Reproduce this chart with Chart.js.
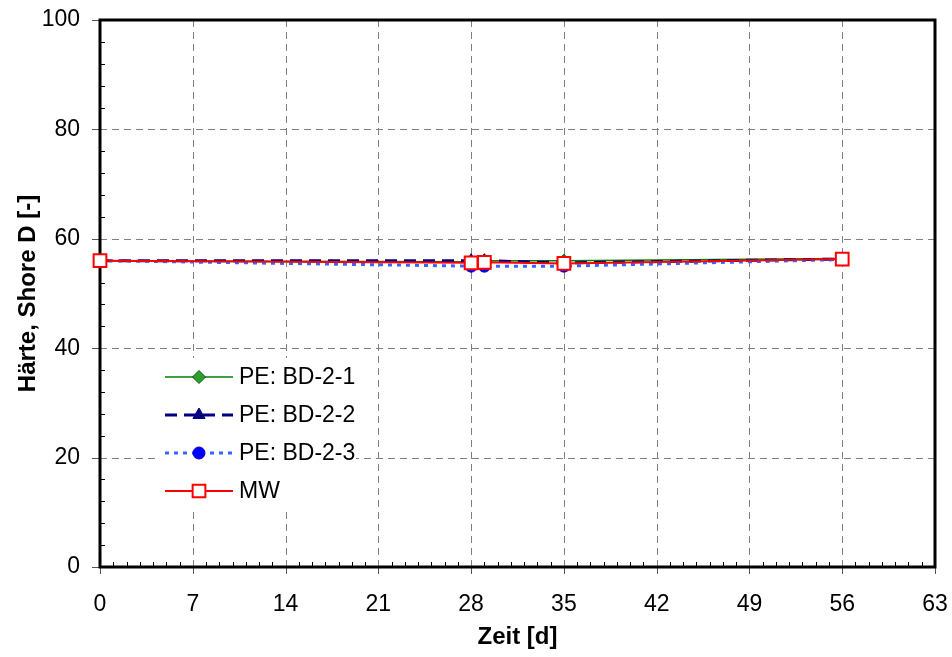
<!DOCTYPE html>
<html><head><meta charset="utf-8">
<script src="https://cdn.jsdelivr.net/npm/chart.js@4/dist/chart.umd.min.js"></script>
<style>html,body{margin:0;padding:0;background:#fff}#wrap{width:952px;height:657px}</style>
</head><body><div id="wrap"><canvas id="c" width="952" height="657"></canvas></div>
<script>
const days = [0, 28, 29, 35, 56];
const bd1 = [56, 55.8, 56.0, 56.0, 56.4];
const bd2 = [56, 56.0, 56.0, 55.6, 56.3];
const bd3 = [56, 55.0, 55.0, 55.0, 56.2];
const mw  = [56, 55.6, 55.7, 55.5, 56.3];
const seriesNames = ['PE: BD-2-1', 'PE: BD-2-2', 'PE: BD-2-3', 'MW'];
const xTicks = [0, 7, 14, 21, 28, 35, 42, 49, 56, 63];
const yTicks = [0, 20, 40, 60, 80, 100];

const FONT = "'Liberation Sans', Arial, sans-serif";
const pts = arr => days.map((d, i) => ({x: d, y: arr[i]}));

const datasets = [
  {label: seriesNames[0], data: pts(bd1), borderColor: '#008000', backgroundColor: '#2e9e2e', borderWidth: 1.5,
   pointStyle: 'rectRot', pointRadius: 6.5, pointBorderColor: '#006400', pointBorderWidth: 1, order: 3},
  {label: seriesNames[1], data: pts(bd2), borderColor: '#000080', backgroundColor: '#000080', borderWidth: 3,
   borderDash: [12, 7], pointStyle: 'triangle', pointRadius: 7, pointBorderColor: '#000080', pointBorderWidth: 1, order: 2},
  {label: seriesNames[2], data: pts(bd3), borderColor: '#3366ff', backgroundColor: '#0000ff', borderWidth: 3,
   borderDash: [4, 5], pointStyle: 'circle', pointRadius: 6, pointBorderColor: '#0000cc', pointBorderWidth: 1, order: 1},
  {label: seriesNames[3], data: pts(mw), borderColor: '#ff0000', backgroundColor: '#ffffff', borderWidth: 2,
   pointStyle: 'rect', pointRadius: 9, pointBorderColor: '#ff0000', pointBorderWidth: 2, order: 0}
];
datasets.forEach(d => { d.showLine = true; d.clip = false; d.tension = 0; d.pointBackgroundColor = d.backgroundColor; });

const framePlugin = {
  id: 'frame',
  beforeDatasetsDraw(chart) {
    const {ctx, chartArea: a, scales: {x, y}} = chart;
    ctx.save();
    ctx.strokeStyle = '#808080'; ctx.lineWidth = 1; ctx.setLineDash([7, 5]);
    xTicks.forEach(v => { if (v > 0 && v < 63) { const px = Math.round(x.getPixelForValue(v)) + 0.5;
      ctx.beginPath(); ctx.moveTo(px, a.top); ctx.lineTo(px, a.bottom); ctx.stroke(); }});
    yTicks.forEach(v => { if (v > 0 && v < 100) { const py = Math.round(y.getPixelForValue(v)) + 0.5;
      ctx.beginPath(); ctx.moveTo(a.left, py); ctx.lineTo(a.right, py); ctx.stroke(); }});
    ctx.setLineDash([]);
    ctx.strokeStyle = '#000'; ctx.lineWidth = 1;
    for (let v = 1; v < 63; v++) { if (v % 7 === 0) continue; const px = Math.round(x.getPixelForValue(v)) + 0.5;
      ctx.beginPath(); ctx.moveTo(px, a.bottom); ctx.lineTo(px, a.bottom - 5); ctx.stroke(); }
    for (let v = 4; v < 100; v += 4) { if (v % 20 === 0) continue; const py = Math.round(y.getPixelForValue(v)) + 0.5;
      ctx.beginPath(); ctx.moveTo(a.left, py); ctx.lineTo(a.left + 5, py); ctx.stroke(); }
    ctx.strokeStyle = '#555'; ctx.lineWidth = 1;
    xTicks.forEach(v => { const px = Math.round(x.getPixelForValue(v)) + 0.5;
      ctx.beginPath(); ctx.moveTo(px, a.bottom); ctx.lineTo(px, a.bottom + 7); ctx.stroke(); });
    yTicks.forEach(v => { const py = Math.round(y.getPixelForValue(v)) + 0.5;
      ctx.beginPath(); ctx.moveTo(a.left - 8, py); ctx.lineTo(a.left, py); ctx.stroke(); });
    ctx.strokeStyle = '#000'; ctx.lineWidth = 3;
    ctx.strokeRect(a.left, a.top, a.right - a.left, a.bottom - a.top);
    ctx.restore();
  },
  afterDatasetsDraw(chart) {
    const {ctx} = chart;
    ctx.save();
    ctx.fillStyle = '#fff';
    ctx.fillRect(158, 358, 198, 150);
    const y0 = 377, dy = 38, x0 = 165, x1 = 233, xm = 199;
    chart.data.datasets.forEach((d, i) => {
      const yy = y0 + i * dy;
      ctx.strokeStyle = d.borderColor; ctx.lineWidth = d.borderWidth;
      ctx.setLineDash(d.borderDash || []);
      ctx.beginPath(); ctx.moveTo(x0, yy); ctx.lineTo(x1, yy); ctx.stroke();
      ctx.setLineDash([]);
      ctx.fillStyle = d.pointBackgroundColor; ctx.strokeStyle = d.pointBorderColor; ctx.lineWidth = d.pointBorderWidth;
      Chart.helpers.drawPoint(ctx, {pointStyle: d.pointStyle, radius: d.pointRadius, rotation: 0, borderWidth: d.pointBorderWidth}, xm, yy);
      ctx.fillStyle = '#000'; ctx.font = '23px ' + FONT; ctx.textBaseline = 'middle'; ctx.textAlign = 'left';
      ctx.fillText(d.label, 239, yy + 1);
    });
    ctx.restore();
  }
};

new Chart(document.getElementById('c'), {
  type: 'scatter',
  data: {datasets},
  options: {
    responsive: false, animation: false, devicePixelRatio: 1,
    layout: {padding: {top: 20, right: 17, left: 0, bottom: 0}},
    plugins: {legend: {display: false}, tooltip: {enabled: false}},
    scales: {
      x: {type: 'linear', min: 0, max: 63,
        afterBuildTicks: s => { s.ticks = xTicks.map(v => ({value: v})); },
        afterFit: s => { s.height = 90; s.paddingLeft = 0; s.paddingRight = 0; },
        grid: {display: false, drawTicks: false}, border: {display: false},
        ticks: {padding: 24, color: '#000', font: {family: FONT, size: 23}, maxRotation: 0, autoSkip: false},
        title: {display: true, text: 'Zeit [d]', color: '#000', font: {family: FONT, size: 24, weight: 'bold'}, padding: {top: 0, bottom: 5}}},
      y: {type: 'linear', min: 0, max: 100,
        afterBuildTicks: s => { s.ticks = yTicks.map(v => ({value: v})); },
        afterFit: s => { s.width = 100; s.paddingTop = 0; s.paddingBottom = 0; },
        grid: {display: false, drawTicks: false}, border: {display: false},
        ticks: {padding: 20, color: '#000', font: {family: FONT, size: 23}},
        title: {display: true, text: 'Härte, Shore D [-]', color: '#000', font: {family: FONT, size: 24, weight: 'bold'}, padding: {top: 14, bottom: 0}}}
    }
  },
  plugins: [framePlugin]
});
</script></body></html>
